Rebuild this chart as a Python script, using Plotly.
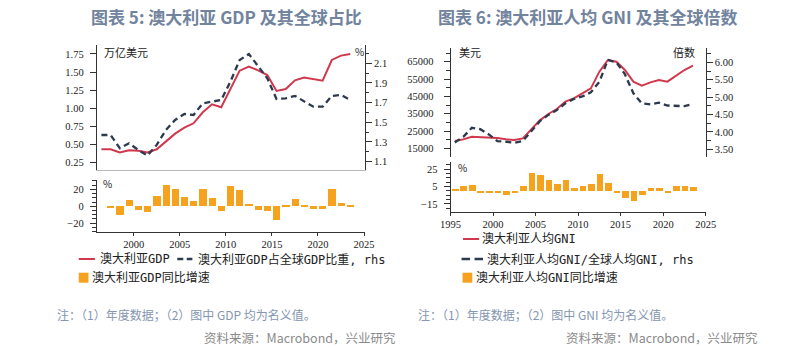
import plotly.graph_objects as go

# ---------------- Chart 5: Australia GDP and its world share ----------------
gdp_years = list(range(1996, 2024))
gdp_trn_usd = [0.431, 0.431, 0.389, 0.417, 0.412, 0.389, 0.431, 0.546, 0.648, 0.731,
               0.791, 0.943, 1.053, 1.012, 1.266, 1.519, 1.575, 1.524, 1.459, 1.238,
               1.266, 1.386, 1.423, 1.404, 1.381, 1.667, 1.727, 1.750]
gdp_world_share = [1.371, 1.371, 1.236, 1.286, 1.219, 1.161, 1.270, 1.422, 1.524, 1.585,
                   1.575, 1.693, 1.710, 1.727, 1.914, 2.134, 2.195, 2.066, 1.947, 1.737,
                   1.744, 1.768, 1.710, 1.659, 1.659, 1.768, 1.778, 1.727]
gdp_growth_years = list(range(1997, 2024))
gdp_growth = [-1.5, -10.6, 7.0, -4.0, -6.7, 11.8, 25.5, 20.4, 10.6, 5.9,
              20.4, 9.8, -5.0, 24.3, 19.6, 3.1, -4.0, -5.0, -15.7, 2.0,
              8.6, 2.0, -3.0, -2.7, 20.4, 3.5, 1.3]

# ---------------- Chart 6: Australia GNI per capita and multiple of world ----------------
gni_years = list(range(1995, 2024))
gni_per_capita = [19230, 20190, 21730, 21540, 21350, 20960, 20190, 19810, 20770, 26150,
                  31150, 34810, 37690, 41920, 43850, 46730, 49620, 59230, 65960, 65000,
                  60190, 53460, 51150, 53080, 54420, 53460, 56730, 60190, 62690]
gni_world_multiple = [3.70, 3.86, 4.12, 4.08, 3.93, 3.74, 3.72, 3.69, 3.74, 4.03,
                      4.31, 4.49, 4.63, 4.82, 4.95, 5.02, 5.14, 5.44, 6.07, 6.00,
                      5.66, 5.11, 4.82, 4.79, 4.84, 4.76, 4.74, 4.74, 4.81]
gni_growth = [2.3, 6.2, 7.0, -1.3, -1.3, -1.3, -4.7, -1.1, 5.4, 21.0,
              19.0, 12.4, 8.1, 13.2, 3.5, 6.2, 7.8, 20.2, 9.3, -1.3,
              -8.0, -11.0, -4.5, 3.1, 3.1, -2.0, 6.2, 6.2, 4.3]

# legend labels
gdp_names = ["澳大利亚GDP", "澳大利亚GDP占全球GDP比重, rhs", "澳大利亚GDP同比增速"]
gni_names = ["澳大利亚人均GNI", "澳大利亚人均GNI/全球人均GNI, rhs", "澳大利亚人均GNI同比增速"]

RED = "#d0384d"
NAVY = "#2c3a4d"
ORANGE = "#f5a31f"
TITLE_C = "#71839d"
NOTE_C = "#8596b0"
SRC_C = "#8a8a8a"
CJK = "Noto Sans CJK SC"
LEG_FONT = "DejaVu Sans Mono, Noto Sans CJK SC"
W, H = 809, 349


def px(x):
    return x / W


def py(y):
    return 1 - y / H


def mid(years):
    # annual observations are placed at the middle of each year
    return [y + 0.5 for y in years]


fig = go.Figure()

fig.add_trace(go.Scatter(x=mid(gdp_years), y=gdp_trn_usd, mode="lines",
                         line=dict(color=RED, width=2), name=gdp_names[0],
                         xaxis="x", yaxis="y"))
fig.add_trace(go.Scatter(x=mid(gdp_years), y=gdp_world_share, mode="lines",
                         line=dict(color=NAVY, width=2.3, dash="6px,4px"),
                         name=gdp_names[1], xaxis="x", yaxis="y2"))
fig.add_trace(go.Bar(x=mid(gdp_growth_years), y=gdp_growth, width=0.78,
                     marker=dict(color=ORANGE, line=dict(width=0)),
                     name=gdp_names[2], xaxis="x2", yaxis="y3"))

fig.add_trace(go.Scatter(x=mid(gni_years), y=gni_per_capita, mode="lines",
                         line=dict(color=RED, width=2), name=gni_names[0],
                         xaxis="x3", yaxis="y4"))
fig.add_trace(go.Scatter(x=mid(gni_years), y=gni_world_multiple, mode="lines",
                         line=dict(color=NAVY, width=2.3, dash="6px,4px"),
                         name=gni_names[1], xaxis="x3", yaxis="y5"))
fig.add_trace(go.Bar(x=mid(gni_years), y=gni_growth, width=0.77,
                     marker=dict(color=ORANGE, line=dict(width=0)),
                     name=gni_names[2], xaxis="x4", yaxis="y6"))

tick_font = dict(family="Liberation Serif", size=10.5, color="#222")
base = dict(showgrid=False, zeroline=False, showline=True, linecolor="#333",
            linewidth=1, ticks="outside", tickcolor="#333", ticklen=5,
            tickfont=tick_font, fixedrange=True)

L_dom = [px(89), px(364)]
R_dom = [px(451.7), px(713.3)]

fig.update_layout(
    xaxis=dict(base, domain=L_dom, range=[1996, 2025.1], anchor="y",
               showticklabels=False, ticks="", linecolor="#b8b8b8"),
    yaxis=dict(base, domain=[py(170), py(45)], range=[0.145, 1.874], anchor="x",
               tick0=0.25, dtick=0.25, tickformat=".2f", ticklen=6, ticklabelstandoff=4),
    yaxis2=dict(base, overlaying="y", side="right", anchor="x", range=[1.015, 2.286],
                tick0=1.1, dtick=0.2, tickformat=".1f", ticklen=6,
                minor=dict(dtick=0.1, ticklen=3, ticks="outside", tickcolor="#333")),
    xaxis2=dict(base, domain=L_dom, range=[1996, 2025.1], anchor="y3",
                tick0=2000, dtick=5, ticklen=3),
    yaxis3=dict(base, domain=[py(231.7), py(180)], range=[-30, 31], anchor="x2",
                tick0=-20, dtick=20, ticklen=6, ticklabelstandoff=4,
                minor=dict(dtick=5, ticklen=4, ticks="outside", tickcolor="#333")),

    xaxis3=dict(base, domain=R_dom, range=[1995, 2025], anchor="y4",
                showticklabels=False, ticks="", showline=False),
    yaxis4=dict(base, domain=[py(156.7), py(47.5)], range=[10190, 73170], anchor="x3",
                tick0=15000, dtick=10000, tickformat="d", ticklen=6, ticklabelstandoff=8,
                minor=dict(dtick=5000, ticklen=4, ticks="outside", tickcolor="#333")),
    yaxis5=dict(base, overlaying="y4", side="right", anchor="x3", range=[3.29, 6.426],
                tick0=3.5, dtick=0.5, tickformat=".2f", ticklen=6,
                minor=dict(dtick=0.25, ticklen=4, ticks="outside", tickcolor="#333")),
    xaxis4=dict(base, domain=R_dom, range=[1995, 2025], anchor="y6",
                tick0=1995, dtick=5, ticklen=3),
    yaxis6=dict(base, domain=[py(211.7), py(161.7)], range=[-24, 33.5], anchor="x4",
                tick0=-15, dtick=20, ticklen=6, ticklabelstandoff=4,
                minor=dict(dtick=5, ticklen=4, ticks="outside", tickcolor="#333")),

    bargap=0,
    width=W, height=H,
    margin=dict(l=0, r=0, t=0, b=0),
    paper_bgcolor="white", plot_bgcolor="white",
    showlegend=False,
)

ann = []
shapes = []


def text(x, y, s, size, color, xanchor="left", family=CJK, bold=False):
    ann.append(dict(x=px(x), y=py(y), xref="paper", yref="paper",
                    text=f"<b>{s}</b>" if bold else s,
                    showarrow=False, xanchor=xanchor, yanchor="middle",
                    font=dict(family=family, size=size, color=color)))


def key_line(x0, x1, y, color, width, dash="solid"):
    shapes.append(dict(type="line", xref="paper", yref="paper",
                       x0=px(x0), x1=px(x1), y0=py(y), y1=py(y),
                       line=dict(color=color, width=width, dash=dash)))


def key_box(x0, y, size, color):
    shapes.append(dict(type="rect", xref="paper", yref="paper",
                       x0=px(x0), x1=px(x0 + size), y0=py(y + size / 2), y1=py(y - size / 2),
                       fillcolor=color, line=dict(width=0)))


# titles
text(222.5, 16, "图表 5: 澳大利亚 GDP 及其全球占比", 17, TITLE_C, "center", bold=True)
text(592.5, 16, "图表 6: 澳大利亚人均 GNI 及其全球倍数", 17, TITLE_C, "center", bold=True)

# unit labels inside the panels
text(94, 52, "万亿美元", 11, "#222")
text(358, 51, "%", 10, "#222", "center")
text(93, 184, "%", 10, "#222")
text(458, 52, "美元", 11, "#222")
text(704, 52, "倍数", 11, "#222", "right")
text(457, 168, "%", 10, "#222")

# keys for chart 5
key_line(70.5, 87, 259, RED, 2)
text(90.5, 259, gdp_names[0], 12, "#222", family=LEG_FONT)
key_line(171.5, 187, 259, NAVY, 2.3, "6px,3.5px")
text(190.5, 259, gdp_names[1], 12, "#222", family=LEG_FONT)
key_box(70.5, 277.7, 10, ORANGE)
text(82, 277.7, gdp_names[2], 12, "#222", family=LEG_FONT)

# keys for chart 6
key_line(464.5, 481, 239, RED, 2)
text(482, 239, gni_names[0], 12, "#222", family=LEG_FONT)
key_line(463, 485, 259, NAVY, 2.3, "8.5px,4.5px")
text(487, 259, gni_names[1], 12, "#222", family=LEG_FONT)
key_box(464, 277.7, 10, ORANGE)
text(476, 277.7, gni_names[2], 12, "#222", family=LEG_FONT)

# notes and sources
text(46, 314, "注：（1）年度数据；（2）图中 GDP 均为名义值。", 12, NOTE_C)
text(416, 314, "注：（1）年度数据；（2）图中 GNI 均为名义值。", 12, NOTE_C)
text(398, 337, "资料来源：Macrobond，兴业研究", 12.5, SRC_C, "right")
text(769, 337, "资料来源：Macrobond，兴业研究", 12.5, SRC_C, "right")

fig.update_layout(annotations=ann, shapes=shapes)

fig.write_html("out.html")
